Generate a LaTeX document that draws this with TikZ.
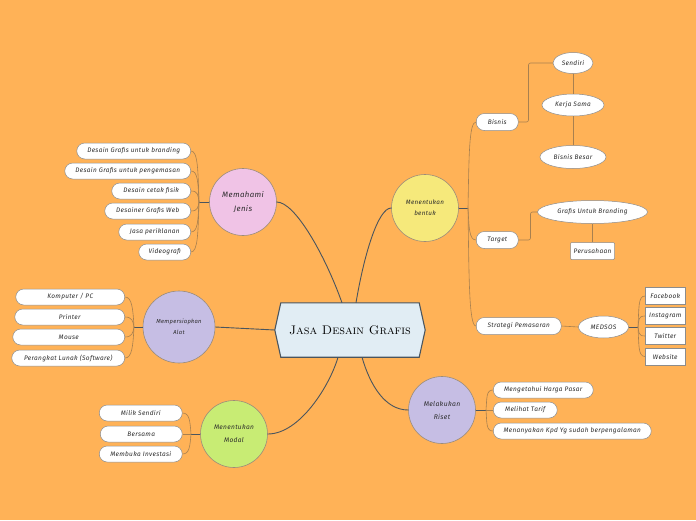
\documentclass[tikz,border=0pt]{standalone}
\usepackage{fontspec}
\newfontfamily\hand{Fira Sans}[LetterSpace=5]
\usetikzlibrary{shapes.geometric,calc}
\definecolor{bg}{HTML}{FFB257}
\definecolor{cpink}{HTML}{F0C3E6}
\definecolor{cyellow}{HTML}{F6E97B}
\definecolor{clav}{HTML}{C6BEE4}
\definecolor{cgreen}{HTML}{C8EC74}
\definecolor{hubfill}{HTML}{E1EDF4}
\definecolor{dark}{HTML}{4A555E}
\definecolor{brn}{HTML}{A8804F}
\definecolor{pillborder}{HTML}{8C8C8C}
\definecolor{circborder}{HTML}{9A8B7A}
\definecolor{txt}{HTML}{2B2B2B}
\begin{document}
\begin{tikzpicture}[x=1pt,y=1pt,
  pill/.style={draw=pillborder, fill=white, rounded corners=8pt, minimum height=16pt, inner sep=1pt, line width=0.5pt,
    text=txt, font=\hand\itshape\fontsize{6.5}{7}\selectfont},
  topic/.style={circle, draw=circborder, line width=0.6pt, minimum size=67pt, inner sep=0pt, align=center, text=txt},
  oval/.style={ellipse, draw=pillborder, fill=white, inner sep=0pt, line width=0.5pt, text=txt,
    font=\hand\itshape\fontsize{6.5}{7}\selectfont},
  sqbox/.style={rectangle, draw=pillborder, fill=white, inner sep=0pt, line width=0.5pt, text=txt,
    font=\hand\itshape\fontsize{6.5}{7}\selectfont},
  hubline/.style={draw=dark, line width=0.9pt},
  br/.style={draw=brn, line width=0.6pt},
]
\fill[bg] (0,0) rectangle (696,-520);
\useasboundingbox (0,0) rectangle (696,-520);

% central hub
\node[rectangle, minimum width=138pt, minimum height=54pt, inner sep=0pt] (hub) at (350,-330) {};
\filldraw[fill=hubfill, draw=dark, line width=1.1pt]
  (hub.north west) -- (hub.north east) -- ($(hub.east)+(6,0)$) -- (hub.south east)
  -- (hub.south west) -- ($(hub.west)+(-6,0)$) -- cycle;
\node[font=\fontsize{12.5}{14}\selectfont\scshape, text=black] (hubtext) at (hub.center) {Jasa Desain Grafis};
\coordinate (hubA) at ($(hub.north)+(-8,0)$);
\coordinate (hubB) at ($(hub.north)+(6,0)$);
\coordinate (hubC) at ($(hub.south)+(-12,0)$);
\coordinate (hubD) at ($(hub.south)+(12,0)$);
\coordinate (hubW) at ($(hub.west)+(-6,0)$);

% main topics
\node[topic, fill=cpink, font=\hand\itshape\fontsize{7.8}{14}\selectfont] (mj) at (243,-202) {Memahami\\Jenis};
\node[topic, fill=cyellow, font=\hand\itshape\fontsize{6.3}{11}\selectfont] (mb) at (425,-208) {Menentukan\\bentuk};
\node[topic, fill=clav, minimum size=72pt, font=\hand\itshape\fontsize{5.8}{11}\selectfont] (ma) at (179,-327) {Mempersiapkan\\Alat};
\node[topic, fill=cgreen, font=\hand\itshape\fontsize{6.6}{13}\selectfont] (mm) at (234,-434) {Menentukan\\Modal};
\node[topic, fill=clav, font=\hand\itshape\fontsize{6.8}{13}\selectfont] (mr) at (442,-410) {Melakukan\\Riset};

% hub connectors
\draw[hubline] (hubA) .. controls (325,-255) and (295,-202) .. (mj.east);
\draw[hubline] (hubB) .. controls (364,-255) and (378,-208) .. (mb.west);
\draw[hubline] (hubW) -- (ma.east);
\draw[hubline] (hubC) .. controls (330,-385) and (300,-434) .. (mm.east);
\draw[hubline] (hubD) .. controls (370,-385) and (385,-410) .. (mr.west);

% Memahami Jenis items
\node[pill, anchor=east, minimum width=114pt] (mj1) at (191,-151) {Desain Grafis untuk branding};
\node[pill, anchor=east, minimum width=126pt] (mj2) at (191,-171) {Desain Grafis untuk pengemasan};
\node[pill, anchor=east, minimum width=79pt] (mj3) at (191,-191) {Desain cetak fisik};
\node[pill, anchor=east, minimum width=86pt] (mj4) at (191,-211) {Desainer Grafis Web};
\node[pill, anchor=east, minimum width=72pt] (mj5) at (191,-232) {Jasa periklanan};
\node[pill, anchor=east, minimum width=52pt] (mj6) at (191,-252) {Videografi};
\coordinate (jmj) at (199,-202);
\draw[hubline] (mj.west) -- (jmj);
\draw[br] (mj1.east) .. controls +(7,0) and +(-1,31) .. (jmj);
\draw[br] (mj2.east) .. controls +(7,0) and +(-1,19) .. (jmj);
\draw[br] (mj3.east) .. controls +(7,0) and +(-1,7) .. (jmj);
\draw[br] (mj4.east) .. controls +(7,0) and +(-1,-5) .. (jmj);
\draw[br] (mj5.east) .. controls +(7,0) and +(-1,-18) .. (jmj);
\draw[br] (mj6.east) .. controls +(7,0) and +(-1,-30) .. (jmj);

% Mempersiapkan Alat items
\node[pill, anchor=east, minimum width=109pt] (ma1) at (125,-297) {Komputer / PC};
\node[pill, anchor=east, minimum width=110pt] (ma2) at (125,-317) {Printer};
\node[pill, anchor=east, minimum width=112pt] (ma3) at (125,-337) {Mouse};
\node[pill, anchor=east, minimum width=113pt] (ma4) at (125,-358) {Perangkat Lunak (Software)};
\coordinate (jma) at (134,-327);
\draw[hubline] (ma.west) -- (jma);
\draw[br] (ma1.east) .. controls +(7,0) and +(-1,18) .. (jma);
\draw[br] (ma2.east) .. controls +(7,0) and +(-1,6) .. (jma);
\draw[br] (ma3.east) .. controls +(7,0) and +(-1,-6) .. (jma);
\draw[br] (ma4.east) .. controls +(7,0) and +(-1,-19) .. (jma);

% Menentukan Modal items
\node[pill, anchor=east, minimum width=83pt] (mm1) at (182.5,-413) {Milik Sendiri};
\node[pill, anchor=east, minimum width=82pt] (mm2) at (182.5,-434) {Bersama};
\node[pill, anchor=east, minimum width=83pt] (mm3) at (182.5,-454) {Membuka Investasi};
\coordinate (jmm) at (191,-434);
\draw[hubline] (mm.west) -- (jmm);
\draw[br] (mm1.east) .. controls +(7,0) and +(-1,13) .. (jmm);
\draw[br] (mm2.east) -- (jmm);
\draw[br] (mm3.east) .. controls +(7,0) and +(-1,-12) .. (jmm);

% Melakukan Riset items
\node[pill, anchor=west, minimum width=100pt] (mr1) at (493,-390) {Mengetahui Harga Pasar};
\node[pill, anchor=west, minimum width=64pt] (mr2) at (493,-410) {Melihat Tarif};
\node[pill, anchor=west, minimum width=158pt] (mr3) at (493,-431) {Menanyakan Kpd Yg sudah berpengalaman};
\coordinate (jmr) at (486,-410);
\draw[hubline] (mr.east) -- (jmr);
\draw[br] (mr1.west) .. controls +(-7,0) and +(1,12) .. (jmr);
\draw[br] (mr2.west) -- (jmr);
\draw[br] (mr3.west) .. controls +(-7,0) and +(1,-13) .. (jmr);

% Menentukan bentuk items
\node[pill, anchor=west, minimum width=42pt, minimum height=17pt] (bis) at (476,-122) {Bisnis};
\node[pill, anchor=west, minimum width=42pt, minimum height=17pt] (tar) at (476,-240) {Target};
\node[pill, anchor=west, minimum width=85pt, minimum height=17pt] (str) at (476,-326) {Strategi Pemasaran};
\coordinate (jmb) at (468,-208);
\draw[hubline] (mb.east) -- (jmb);
\draw[br] (bis.west) .. controls +(-7,0) and +(1,52) .. (jmb);
\draw[br] (tar.west) .. controls +(-7,0) and +(1,-19) .. (jmb);
\draw[br] (str.west) .. controls +(-7,0) and +(1,-71) .. (jmb);

% Bisnis subtree
\node[oval, minimum width=40pt, minimum height=21pt] (sen) at (573,-63) {Sendiri};
\node[oval, minimum width=62pt, minimum height=22pt] (ker) at (573,-105) {Kerja Sama};
\node[oval, minimum width=66pt, minimum height=23pt] (bes) at (573,-157) {Bisnis Besar};
\draw[br, rounded corners=2pt] (bis.east) -- ++(10,0) |- (sen.west);
\draw[br] (sen.south) -- (ker.north);
\draw[br] (ker.south) -- (bes.north);

% Target subtree
\node[oval, minimum width=110pt, minimum height=23pt] (gub) at (592.5,-212) {Grafis Untuk Branding};
\node[sqbox, minimum width=44pt, minimum height=17pt, rounded corners=1pt] (per) at (592.5,-251) {Perusahaan};
\draw[br, rounded corners=2pt] (tar.east) -- ++(12,0) |- (gub.west);
\draw[br] (gub.south) -- (per.north);

% Strategi Pemasaran subtree
\node[oval, minimum width=50pt, minimum height=22pt] (med) at (603.5,-327) {MEDSOS};
\draw[br] (str.east) -- (med.west);
\node[sqbox, anchor=west, minimum width=40pt, minimum height=17pt] (fb) at (645,-296) {Facebook};
\node[sqbox, anchor=west, minimum width=40pt, minimum height=17pt] (ig) at (645,-316) {Instagram};
\node[sqbox, anchor=west, minimum width=40pt, minimum height=17pt] (tw) at (645,-336) {Twitter};
\node[sqbox, anchor=west, minimum width=40pt, minimum height=17pt] (web) at (645,-356.5) {Website};
\coordinate (jmed) at (638,-327);
\draw[hubline] (med.east) -- (jmed);
\draw[br] (fb.west) .. controls +(-7,0) and +(1,19) .. (jmed);
\draw[br] (ig.west) .. controls +(-7,0) and +(1,7) .. (jmed);
\draw[br] (tw.west) .. controls +(-7,0) and +(1,-5) .. (jmed);
\draw[br] (web.west) .. controls +(-7,0) and +(1,-18) .. (jmed);
\end{tikzpicture}
\end{document}
